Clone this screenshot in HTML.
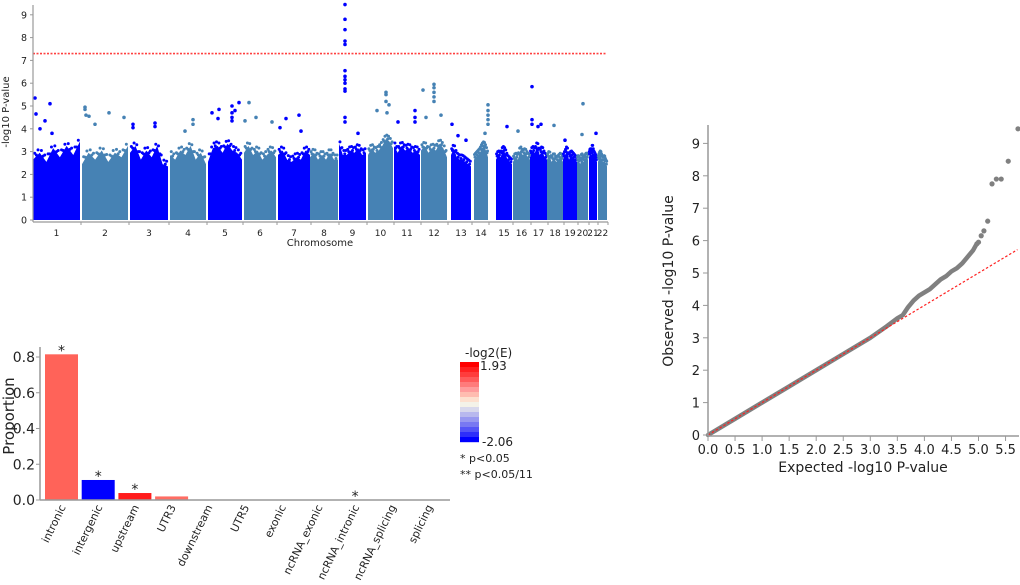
<!DOCTYPE html>
<html><head><meta charset="utf-8"><style>
body{margin:0;background:#fff;}
svg{display:block;font-family:"DejaVu Sans","Liberation Sans",sans-serif;}
</style></head><body>
<svg id="root" width="1020" height="585" viewBox="0 0 1020 585" xmlns="http://www.w3.org/2000/svg">
<g id="man"></g>
<g id="bar"></g>
<g id="qq"></g>
</svg>
<script>
// ---------- Manhattan data ----------
const chrNames=["1","2","3","4","5","6","7","8","9","10","11","12","13","14","15","16","17","18","19","20","21","22"];
const chrStart=[0,49,97,137,175,211,245,277,306,335,361,388,418,441,463,480,497,514,530,544,556,565];
const chrEnd=[47,95,135,173,209,243,277,305,333,360,387,414,438,455,479,497,514,530,544,555,564,574];
const chrProfile=[
[3.0,3.3,2.9,3.5,3.1,3.6,3.2,3.8],[2.8,3.3,3.0,3.4,2.9,3.3,3.1,3.6],[3.3,3.6,3.0,3.4,3.1,3.6,2.8,2.7],
[3.2,3.0,3.4,3.2,3.6,3.0,3.3,2.8],[2.9,3.5,3.6,3.3,3.7,3.4,3.3,3.0],[3.3,3.6,3.2,3.4,3.0,3.2,3.4,3.1],
[3.2,3.4,3.0,2.9,3.1,3.0,3.4,3.2],[3.1,3.3,3.0,3.2,3.0,3.3,3.0,3.0],[3.7,3.2,3.2,3.4,3.3,3.5,3.2,3.3],
[3.2,3.5,3.3,3.4,3.6,3.9,3.8,3.5],[3.6,3.3,3.6,3.4,3.5,3.3,3.4,3.2],[3.4,3.6,3.3,3.5,3.4,3.7,3.5,3.1],
[3.2,3.5,3.1,3.0,3.0,2.9,2.8,2.7],[3.0,3.1,3.2,3.3,3.5,3.6,3.4,3.1],[3.0,3.2,3.1,3.4,3.3,3.0,2.9,2.8],
[2.9,3.1,3.0,3.4,3.2,3.3,3.1,3.0],[3.1,3.4,3.3,3.6,3.2,3.4,3.1,3.0],[3.0,3.2,2.9,3.1,2.9,3.0,3.1,2.9],
[3.0,3.2,3.4,3.0,3.2,3.1,3.0,2.9],[2.9,3.0,2.8,3.1,2.9,3.0,3.1,3.0],[3.1,3.3,3.2,3.5,3.2,3.1,3.0,2.9],
[2.9,3.1,3.2,3.0,2.9,3.0,2.8,2.7]];
const peakPos=[2,3,12,7,17,19,52,52,53,56,76,91,62,100,100,122,122,160,160,152,179,186,185,199,199,199,199,202,206,216,212,223,239,247,253,266,268,
312,312,312,312,312,312,312,312,312,312,312,312,312,325,344,353,353,353,356,354,365,382,382,382,390,401,401,401,401,401,408,393,419,425,433,455,455,455,455,455,452,474,485,499,499,499,505,508,521,532,550,549,563];
const peakVal=[5.35,4.65,4.35,4.0,5.1,3.8,4.95,4.85,4.6,4.55,4.7,4.5,4.2,4.2,4.05,4.25,4.1,4.4,4.2,3.9,4.7,4.85,4.45,5.0,4.7,4.5,4.35,4.8,5.15,5.15,4.35,4.5,4.3,4.05,4.45,4.6,3.9,
9.45,8.8,8.35,7.85,7.7,6.55,6.3,6.15,6.0,5.75,5.65,4.5,4.3,3.8,4.8,5.6,5.5,5.2,5.05,4.7,4.3,4.8,4.5,4.3,5.7,5.95,5.8,5.6,5.4,5.2,4.6,4.5,4.2,3.7,3.5,5.05,4.8,4.6,4.4,4.2,3.8,4.1,3.9,5.85,4.4,4.2,4.1,4.2,4.15,3.5,5.1,3.75,3.8];
const manYTicks=[0,1,2,3,4,5,6,7,8,9];
const threshold=7.3;

// ---------- Bar data ----------
const barCats=["intronic","intergenic","upstream","UTR3","downstream","UTR5","exonic","ncRNA_exonic","ncRNA_intronic","ncRNA_splicing","splicing"];
const barVals=[0.815,0.112,0.039,0.02,0,0,0,0,0,0,0];
const barColors=["#ff6359","#0000ff","#ff1c1c","#ff6d63","#ffffff","#ffffff","#ffffff","#ffffff","#ffffff","#ffffff","#ffffff"];
const barStars=["*","*","*","","","","","","*","",""];
const barYTicks=[0,0.2,0.4,0.6,0.8];
const legendColors=["#ff0000","#ff2020","#ff3c3c","#ff5a5a","#ff7b7b","#ff9c9c","#ffbcb0","#fde0cf","#f4f2e8","#d8d8ec","#b8b8ee","#9898f0","#7878f2","#5454f6","#2e2efa","#0000ff"];

// ---------- QQ data ----------
const qqExp=[0,0.5,1,1.5,2,2.5,3,3.3,3.5,3.6,3.7,3.8,3.9,4.0,4.1,4.2,4.3,4.4,4.5,4.6,4.7,4.8,4.9,4.95];
const qqObs=[0,0.5,1,1.5,2,2.5,3.0,3.35,3.6,3.7,3.95,4.15,4.3,4.4,4.5,4.65,4.8,4.9,5.05,5.15,5.3,5.5,5.7,5.85];
const qqTailExp=[4.97,5.0,5.05,5.1,5.17,5.25,5.33,5.42,5.55,5.73];
const qqTailObs=[5.9,5.95,6.15,6.3,6.6,7.75,7.9,7.9,8.45,9.45];
const qqXTicks=[0,0.5,1,1.5,2,2.5,3,3.5,4,4.5,5,5.5];
const qqYTicks=[0,1,2,3,4,5,6,7,8,9];

const NS="http://www.w3.org/2000/svg";
function mk(parent,tag,attrs,text){const e=document.createElementNS(NS,tag);for(const k in attrs)e.setAttribute(k,attrs[k]);if(text!==undefined)e.textContent=text;parent.appendChild(e);return e;}

// ===== Manhattan =====
const man=document.getElementById('man');
const mx=p=>33+p, my=v=>220-v*22.8;
for(let i=0;i<chrNames.length;i++){
  const col=i%2===0?"#0000ff":"#4682b4";
  const prof=chrProfile[i],s=chrStart[i],e=chrEnd[i];
  let pts=[[mx(s),my(0)]];
  for(let j=0;j<prof.length;j++){const p=s+(e-s)*j/(prof.length-1);pts.push([mx(p),my(prof[j]-0.35)]);}
  pts.push([mx(e),my(0)]);
  const poly=mk(man,'polygon',{points:pts.map(q=>q.join(',')).join(' '),fill:col});
  
  
  for(let j=0;j<prof.length-1;j++){
    const p0=s+(e-s)*j/(prof.length-1),p1=s+(e-s)*(j+1)/(prof.length-1);
    for(let k=1;k<=3;k++){
      const p=p0+(p1-p0)*k/4;
      const v=prof[j]+(prof[j+1]-prof[j])*k/4;
      const c=mk(man,'circle',{cx:mx(p),cy:my(v-0.3+0.15*(k%2)),r:1.5,fill:col});
      
      
    }
  }
  const lb=mk(man,'text',{x:mx((s+e)/2),y:236,'font-size':9,'text-anchor':'middle',fill:'#222'},chrNames[i]);
  
  
  const tk=mk(man,'line',{x1:mx(e)+1,x2:mx(e)+1,y1:222,y2:225,stroke:'#999'});
  
  
}
for(let k=0;k<peakPos.length;k++){
  let ci=0;for(let i=0;i<chrStart.length;i++)if(peakPos[k]>=chrStart[i])ci=i;
  const c=mk(man,'circle',{cx:mx(peakPos[k]),cy:my(peakVal[k]),r:1.8,fill:ci%2===0?"#0000ff":"#4682b4"});
  
  
}
let e1=mk(man,'line',{x1:mx(0),x2:mx(574),y1:my(threshold),y2:my(threshold),stroke:'#ff4040','stroke-width':1.6,'stroke-dasharray':'2,1.5'});

e1=mk(man,'line',{x1:33,x2:33,y1:5,y2:222,stroke:'#999','stroke-width':1.2});

e1=mk(man,'line',{x1:33,x2:608,y1:222,y2:222,stroke:'#999','stroke-width':1.2});

manYTicks.forEach(v=>{
  const t=mk(man,'text',{x:27,y:my(v)+3.5,'font-size':9.5,'text-anchor':'end',fill:'#222'},v);
  
  const l=mk(man,'line',{x1:30,x2:33,y1:my(v),y2:my(v),stroke:'#999'});
  
});
e1=mk(man,'text',{x:0,y:0,'font-size':10,'text-anchor':'middle',fill:'#222',transform:'translate(9,112) rotate(-90)'},'-log10 P-value');

e1=mk(man,'text',{x:320,y:246,'font-size':10,'text-anchor':'middle',fill:'#222'},'Chromosome');


// ===== Bar chart =====
const bar=document.getElementById('bar');
const by=v=>500-v*178.75, bx=i=>45+i*36.7;
barCats.forEach((c,i)=>{
  const h=500-by(barVals[i]);
  const r=mk(bar,'rect',{x:bx(i),y:by(barVals[i]),width:33,height:h,fill:barColors[i]});
  
  if(barStars[i]){const s=mk(bar,'text',{x:bx(i)+16.5,y:by(barVals[i])+1,'font-size':14,'text-anchor':'middle',fill:'#222'},barStars[i]);
    }
  const t=mk(bar,'text',{x:0,y:0,'font-size':10.8,'text-anchor':'end',fill:'#222',transform:`translate(${bx(i)+21},${507}) rotate(-64)`},c);
  
});
e1=mk(bar,'line',{x1:40,x2:40,y1:347,y2:500,stroke:'#999','stroke-width':1.5});

e1=mk(bar,'line',{x1:40,x2:450,y1:500,y2:500,stroke:'#999','stroke-width':1.5});

barYTicks.forEach(v=>{
  const t=mk(bar,'text',{x:35,y:by(v)+5,'font-size':14,'text-anchor':'end',fill:'#222'},v.toFixed(1));
  
  const l=mk(bar,'line',{x1:36,x2:40,y1:by(v),y2:by(v),stroke:'#999'});
  
});
e1=mk(bar,'text',{x:0,y:0,'font-size':15,'text-anchor':'middle',fill:'#222',transform:'translate(14,416) rotate(-90)'},'Proportion');

e1=mk(bar,'text',{x:465,y:357,'font-size':12,fill:'#222'},'-log2(E)');

legendColors.forEach((c,i)=>{
  const r=mk(bar,'rect',{x:460,y:362+i*5,width:19,height:5.2,fill:c});
  
});
e1=mk(bar,'text',{x:480,y:370,'font-size':12,fill:'#222'},'1.93');

e1=mk(bar,'text',{x:482,y:446,'font-size':12,fill:'#222'},'-2.06');

e1=mk(bar,'text',{x:460,y:462,'font-size':11,fill:'#222'},'* p<0.05');

e1=mk(bar,'text',{x:460,y:478,'font-size':11,fill:'#222'},'** p<0.05/11');


// ===== QQ =====
const qq=document.getElementById('qq');
const qx=v=>708+v*54.1, qy=v=>435-v*32.4;
e1=mk(qq,'polyline',{points:qqExp.map((v,i)=>qx(v)+','+qy(qqObs[i])).join(' '),fill:'none',stroke:'#808080','stroke-width':4.5,'stroke-linejoin':'round','stroke-linecap':'round'});

qqTailExp.forEach((v,i)=>{
  const c=mk(qq,'circle',{cx:qx(v),cy:qy(qqTailObs[i]),r:2.6,fill:'#808080'});
  
});
e1=mk(qq,'line',{x1:qx(0),y1:qy(0),x2:qx(5.72),y2:qy(5.72),stroke:'#ff2020','stroke-width':1.2,'stroke-dasharray':'2.5,2'});

e1=mk(qq,'line',{x1:708,x2:708,y1:125,y2:436,stroke:'#999','stroke-width':1.5});

e1=mk(qq,'line',{x1:708,x2:1019,y1:436,y2:436,stroke:'#999','stroke-width':1.5});

qqYTicks.forEach(v=>{
  const t=mk(qq,'text',{x:700,y:qy(v)+5,'font-size':13,'text-anchor':'end',fill:'#222'},v);
  
  const l=mk(qq,'line',{x1:703,x2:708,y1:qy(v),y2:qy(v),stroke:'#999'});
  
});
qqXTicks.forEach(v=>{
  const t=mk(qq,'text',{x:qx(v),y:454,'font-size':13,'text-anchor':'middle',fill:'#222'},v.toFixed(1));
  
  const l=mk(qq,'line',{x1:qx(v),x2:qx(v),y1:436,y2:441,stroke:'#999'});
  
});
e1=mk(qq,'text',{x:863,y:472,'font-size':14,'text-anchor':'middle',fill:'#222'},'Expected -log10 P-value');

e1=mk(qq,'text',{x:0,y:0,'font-size':14,'text-anchor':'middle',fill:'#222',transform:'translate(673,281) rotate(-90)'},'Observed -log10 P-value');

</script>
</body></html>
